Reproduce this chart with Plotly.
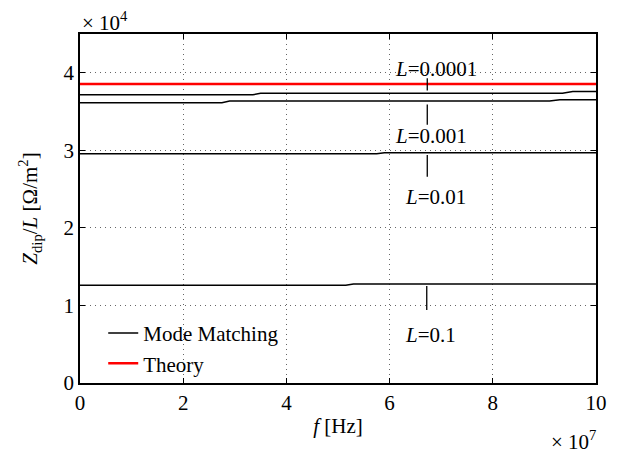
import plotly.graph_objects as go

# ---- data ----
mm1_f = [0, 3.35e7, 3.5e7, 9.35e7, 9.55e7, 1e8]
mm1_z = [37170, 37170, 37350, 37350, 37600, 37600]
mm2_f = [0, 2.75e7, 2.9e7, 9.1e7, 9.3e7, 1e8]
mm2_z = [36130, 36130, 36350, 36350, 36520, 36520]
mm3_f = [0, 5.75e7, 5.9e7, 1e8]
mm3_z = [29570, 29570, 29700, 29700]
mm4_f = [0, 5.15e7, 5.3e7, 1e8]
mm4_z = [12590, 12590, 12770, 12770]
th_f = [0, 1e8]
th_z = [38550, 38550]

label_texts = ["<i>L</i>=0.0001", "<i>L</i>=0.001", "<i>L</i>=0.01", "<i>L</i>=0.1"]
label_x = [6.9e7, 6.8e7, 6.88e7, 6.8e7]
label_y = [40500, 31800, 24000, 6200]
pointer_x = [6.73e7, 6.73e7, 6.73e7, 6.72e7]
pointer_y0 = [37700, 33300, 29400, 12500]
pointer_y1 = [39300, 35900, 26600, 9400]

x_tickvals = [0, 2e7, 4e7, 6e7, 8e7, 1e8]
x_ticktext = ["0", "2", "4", "6", "8", "10"]
y_tickvals = [0, 10000, 20000, 30000, 40000]
y_ticktext = ["0", "1", "2", "3", "4"]

FONT = "Liberation Serif"

fig = go.Figure()
mm_series = [(mm1_f, mm1_z), (mm2_f, mm2_z), (mm3_f, mm3_z), (mm4_f, mm4_z)]
for i, (fx, zy) in enumerate(mm_series):
    fig.add_trace(go.Scatter(x=fx, y=zy, mode="lines", line=dict(color="black", width=1.5),
                             name="Mode Matching", showlegend=(i == 0)))
fig.add_trace(go.Scatter(x=th_f, y=th_z, mode="lines", line=dict(color="#ff0000", width=2.5),
                         name="Theory"))

for t, lx, ly in zip(label_texts, label_x, label_y):
    fig.add_annotation(x=lx, y=ly, text=t, showarrow=False, font=dict(family=FONT, size=21, color="black"))
for px, y0, y1 in zip(pointer_x, pointer_y0, pointer_y1):
    fig.add_shape(type="line", x0=px, x1=px, y0=y0, y1=y1, line=dict(color="black", width=1.3))

fig.add_annotation(xref="paper", yref="paper", x=0, y=1.0, yshift=-3, xanchor="left", yanchor="bottom",
                   text="× 10<sup>4</sup>", showarrow=False, font=dict(family=FONT, size=21, color="black"))
fig.add_annotation(xref="paper", yref="paper", x=1.0, y=0, yshift=-42, xshift=2, xanchor="right", yanchor="top",
                   text="× 10<sup>7</sup>", showarrow=False, font=dict(family=FONT, size=21, color="black"))

axis_common = dict(showline=True, linecolor="black", linewidth=1.5, mirror="allticks", ticks="inside",
                   ticklen=5, tickcolor="black", showgrid=True, gridcolor="#666666", griddash="1px,4px",
                   gridwidth=1, zeroline=False, tickfont=dict(family=FONT, size=21, color="black"))

fig.update_xaxes(range=[0, 1e8], tickvals=x_tickvals, ticktext=x_ticktext,
                 title=dict(text="<i>f</i> [Hz]", font=dict(family=FONT, size=21, color="black"), standoff=4),
                 **axis_common)
fig.update_yaxes(range=[0, 45000], tickvals=y_tickvals, ticktext=y_ticktext,
                 title=dict(text="<i>Z</i><sub>dip</sub>/<i>L</i> [Ω/m<sup>2</sup>]",
                            font=dict(family=FONT, size=21, color="black"), standoff=20),
                 **axis_common)

fig.update_layout(width=625, height=447, margin=dict(l=72, r=37, t=26, b=72),
                  plot_bgcolor="white", paper_bgcolor="white",
                  font=dict(family=FONT, size=21, color="black"),
                  legend=dict(x=0.045, y=0.201, xanchor="left", yanchor="top", bgcolor="rgba(0,0,0,0)",
                              font=dict(family=FONT, size=21, color="black"), tracegroupgap=0,
                              itemwidth=30))

fig.write_html("out.html")
